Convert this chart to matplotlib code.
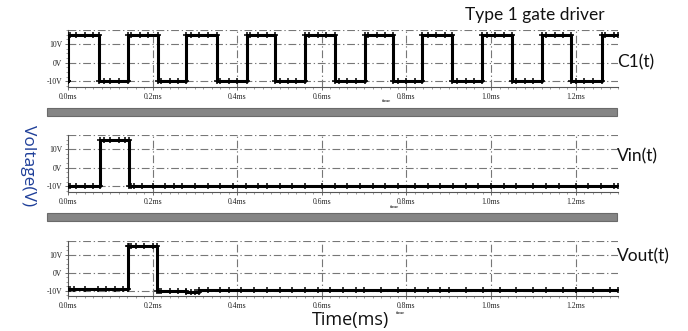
import numpy as np
import matplotlib.pyplot as plt
from matplotlib.patches import Rectangle
from matplotlib.ticker import MultipleLocator

# ---- data ----
xticks = [0.0, 0.2, 0.4, 0.6, 0.8, 1.0, 1.2]
xticklabels = ["0.0ms", "0.2ms", "0.4ms", "0.6ms", "0.8ms", "1.0ms", "1.2ms"]
yticks = [-10, 0, 10]
yticklabels = ["-10V", "0V", "10V"]

# C1(t): square wave, edge times (ms) and level after each edge (V)
c1_edges = [0.0, 0.073, 0.141, 0.212, 0.280, 0.353, 0.422, 0.490, 0.561, 0.630,
            0.703, 0.769, 0.837, 0.908, 0.979, 1.050, 1.120, 1.190, 1.262]
c1_levels = [15, -10, 15, -10, 15, -10, 15, -10, 15, -10,
             15, -10, 15, -10, 15, -10, 15, -10, 15]
c1_start = -10

# Vin(t): one pulse
vin_edges = [0.075, 0.144]
vin_levels = [15, -10]
vin_start = -10

# Vout(t): delayed pulse, small dip after it
vout_edges = [0.142, 0.210, 0.280, 0.310]
vout_levels = [15, -10, -11, -9.8]
vout_start = -9.2

# sample points (simulator steps) shown as '+' markers
c1_marks = [0.005, 0.02, 0.04, 0.06, 0.085, 0.1, 0.12, 0.15, 0.17, 0.19, 0.22, 0.24,
            0.26, 0.29, 0.31, 0.33, 0.36, 0.38, 0.40, 0.43, 0.45, 0.47, 0.50, 0.52,
            0.54, 0.57, 0.59, 0.61, 0.64, 0.66, 0.68, 0.71, 0.73, 0.75, 0.78, 0.80,
            0.82, 0.85, 0.87, 0.89, 0.92, 0.94, 0.96, 0.99, 1.01, 1.03, 1.06, 1.08,
            1.10, 1.13, 1.15, 1.17, 1.20, 1.22, 1.24, 1.27, 1.29]
vin_marks = [0.005, 0.02, 0.04, 0.06, 0.085, 0.1, 0.12, 0.135, 0.15, 0.155, 0.175,
             0.2, 0.23, 0.25, 0.27, 0.3, 0.33, 0.36, 0.39, 0.42, 0.45, 0.47, 0.5,
             0.53, 0.56, 0.6, 0.63, 0.66, 0.69, 0.72, 0.75, 0.78, 0.82, 0.85, 0.88,
             0.91, 0.94, 0.97, 1.0, 1.03, 1.06, 1.1, 1.13, 1.16, 1.2, 1.23, 1.26, 1.29]
vout_marks = [0.005, 0.015, 0.04, 0.07, 0.09, 0.11, 0.13, 0.145, 0.15, 0.16, 0.18,
              0.2, 0.215, 0.22, 0.24, 0.26, 0.29, 0.3, 0.33, 0.36, 0.38, 0.41, 0.44,
              0.47, 0.5, 0.53, 0.56, 0.59, 0.62, 0.65, 0.68, 0.7, 0.74, 0.78, 0.82,
              0.85, 0.88, 0.9, 0.94, 0.98, 1.02, 1.06, 1.1, 1.13, 1.17, 1.2, 1.24, 1.28]

names = ["C1(t)", "Vin(t)", "Vout(t)"]
T_END = 1.3


def step_wave(start, edges, levels):
    t = [0.0]
    v = [start]
    for e, lv in zip(edges, levels):
        t += [e, e]
        v += [v[-1], lv]
    t.append(T_END)
    v.append(v[-1])
    return np.array(t), np.array(v)


def level_at(start, edges, levels, tt):
    idx = np.searchsorted(edges, tt, side="right")
    lv = np.array([start] + list(levels))
    return lv[idx]


plt.rcParams["font.family"] = ["Liberation Serif"]
fig = plt.figure(figsize=(6.88, 3.31), dpi=100)

W, H = 688.0, 331.0
panels = [  # (top px, bottom px)
    (30, 87),
    (135, 192),
    (241, 296),
]
waves = [(c1_start, c1_edges, c1_levels, c1_marks),
         (vin_start, vin_edges, vin_levels, vin_marks),
         (vout_start, vout_edges, vout_levels, vout_marks)]
label_y = [62, 156, 256]
time_pos = [(382, 101), (390, 207), (396, 313)]

gstyle = dict(color="#777777", lw=0.8, ls=(0, (7, 2.5, 1.2, 2.5)))

for i, ((top, bot), (st, ed, lv, mk)) in enumerate(zip(panels, waves)):
    ax = fig.add_axes([68 / W, 1 - bot / H, 550 / W, (bot - top) / H])
    ax.set_xlim(0, T_END)
    ax.set_ylim(-13, 17.5)
    for y in yticks:
        ax.axhline(y, **gstyle, zorder=1)
    ax.axhline(17.5, **gstyle, zorder=1)
    for x in xticks[1:]:
        ax.axvline(x, **gstyle, zorder=1)
    t, v = step_wave(st, ed, lv)
    ax.plot(t, v, color="black", lw=2.2, zorder=3)
    mk = np.array(mk)
    ax.plot(mk, level_at(st, ed, lv, mk), ls="none", marker="+", ms=5,
            mew=1.1, color="black", zorder=4)
    ax.plot(t, v, ls="none", marker="+", ms=5, mew=1.1, color="black", zorder=4)

    for s in ["top", "right"]:
        ax.spines[s].set_visible(False)
    ax.spines["left"].set_color("#555555")
    ax.spines["bottom"].set_color("#555555")
    ax.spines["left"].set_linewidth(0.8)
    ax.spines["bottom"].set_linewidth(0.8)
    ax.set_xticks(xticks)
    ax.set_xticklabels(xticklabels)
    ax.set_yticks(yticks)
    ax.set_yticklabels(yticklabels)
    ax.xaxis.set_minor_locator(MultipleLocator(0.02))
    ax.yaxis.set_minor_locator(MultipleLocator(2.5))
    ax.tick_params(axis="both", which="major", labelsize=5.5, length=2.5,
                   width=0.6, color="#555555", pad=1.5, labelcolor="#222222")
    ax.tick_params(axis="both", which="minor", length=1.3, width=0.5,
                   color="#777777")
    ax.patch.set_alpha(0)

    fig.text(617 / W, 1 - label_y[i] / H, names[i], fontsize=12.5,
             family=["Lato", "DejaVu Sans"], va="center", ha="left", color="#111111")
    fig.text(time_pos[i][0] / W, 1 - time_pos[i][1] / H, "time", fontsize=3.5,
             ha="left", va="center", color="#444444", weight="bold")

# grey separator bars
for top in [108, 213]:
    fig.patches.append(Rectangle((47 / W, 1 - (top + 8) / H), 570 / W, 8 / H,
                                 transform=fig.transFigure, facecolor="#858585",
                                 edgecolor="#6a6a6a", lw=0.8))

fig.text(465 / W, 1 - 15 / H, "Type 1 gate driver", fontsize=12.5,
         family=["Lato", "DejaVu Sans"], ha="left", va="center", color="#111111")
fig.text(28 / W, 1 - 166 / H, "Voltage(V)", fontsize=12.5, rotation=-90,
         family=["Open Sans", "DejaVu Sans"], ha="center", va="center",
         color="#1f3f99")
fig.text(312 / W, 2 / H, "Time(ms)", fontsize=13,
         family=["Open Sans", "DejaVu Sans"], ha="left", va="bottom",
         color="#111111")

fig.savefig("out.png", dpi=100)
